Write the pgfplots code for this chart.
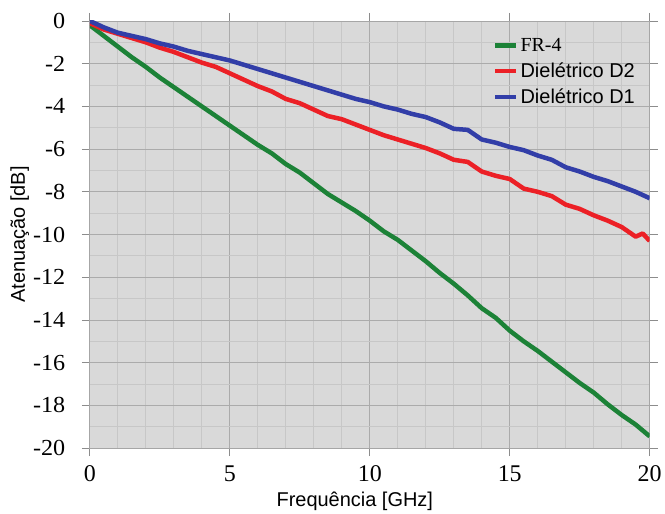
\documentclass[border=0pt]{standalone}
\usepackage{pgfplots}
\pgfplotsset{compat=1.18}
\usepackage{fontspec}
\setmainfont{Liberation Serif}
\newfontfamily\arial{Liberation Sans}
\newfontfamily\timesf{Liberation Serif}
\definecolor{cgreen}{RGB}{28,130,55}
\definecolor{cred}{RGB}{236,32,38}
\definecolor{cblue}{RGB}{50,62,168}
\definecolor{bg}{RGB}{217,217,217}
\begin{document}
\begin{tikzpicture}
\begin{axis}[
  scale only axis, width=561pt, height=428pt,
  xmin=0, xmax=20, ymin=-20, ymax=0,
  xtick={0,5,...,20}, ytick={-20,-18,...,0},
  xticklabels={0,5,10,15,20},
  yticklabels={-20,-18,-16,-14,-12,-10,-8,-6,-4,-2,0},
  minor xtick={1,2,3,4,6,7,8,9,11,12,13,14,16,17,18,19},
  minor ytick={-19,-17,...,-1},
  grid=both,
  major grid style={color=black!33, line width=0.8pt},
  minor grid style={color=black!22, line width=0.8pt},
  axis background/.style={fill=bg},
  axis line style={black!35, line width=0.8pt},
  tick style={black!45, line width=0.8pt},
  tick align=outside, major tick length=8pt, minor tick length=0pt,
  yticklabel style={font=\timesf\fontsize{23}{23}\selectfont, xshift=-13pt, xscale=1.05, anchor=east},
  xticklabel style={font=\timesf\fontsize{24}{24}\selectfont, yshift=-6pt},
  xlabel={\arial\fontsize{20}{20}\selectfont Frequência [GHz]},
  ylabel={\arial\fontsize{20}{20}\selectfont Atenuação [dB]},
  xlabel style={yshift=-3pt, xshift=-15pt},
  ylabel style={yshift=-3pt},
  extra description/.code={\path (rel axis cs:0,1) ++(-90pt,21pt);},
  legend style={at={(axis cs:14.4,-0.7)}, anchor=north west, draw=none, fill=none,
    font=\arial\fontsize{20}{20}\selectfont, row sep=6pt, inner sep=0pt,
    /tikz/every even column/.append style={column sep=0pt}},
  legend cell align=left,
  legend image code/.code={\draw[#1, line width=4.5pt] (0pt,0pt) -- (21pt,0pt);},
]
\addplot[cgreen, line width=4.5pt, line join=round] coordinates {
(0,-0.2) (0.5,-0.7) (1,-1.2) (1.5,-1.7) (2,-2.15) (2.5,-2.65) (3,-3.1) (3.5,-3.55) (4,-4.0)
(4.5,-4.45) (5,-4.9) (5.5,-5.35) (6,-5.8) (6.5,-6.2) (7,-6.7) (7.5,-7.1) (8,-7.6) (8.5,-8.1)
(9,-8.5) (9.5,-8.9) (10,-9.35) (10.5,-9.85) (11,-10.25) (11.5,-10.75) (12,-11.25) (12.5,-11.8)
(13,-12.3) (13.5,-12.85) (14,-13.45) (14.5,-13.9) (15,-14.5) (15.5,-15.0) (16,-15.45) (16.5,-15.95)
(17,-16.45) (17.5,-16.95) (18,-17.4) (18.5,-17.95) (19,-18.45) (19.5,-18.9) (20,-19.45)};
\addlegendentry{\timesf FR-4}
\addplot[cred, line width=4.5pt, line join=round] coordinates {
(0,-0.1) (0.5,-0.4) (1,-0.6) (1.5,-0.8) (2,-1.0) (2.5,-1.25) (3,-1.45) (3.5,-1.7) (4,-1.95)
(4.5,-2.15) (5,-2.45) (5.5,-2.75) (6,-3.05) (6.5,-3.3) (7,-3.65) (7.5,-3.85) (8,-4.15) (8.5,-4.45)
(9,-4.6) (9.5,-4.85) (10,-5.1) (10.5,-5.35) (11,-5.55) (11.5,-5.75) (12,-5.95) (12.5,-6.2)
(13,-6.5) (13.5,-6.6) (14,-7.05) (14.5,-7.25) (15,-7.4) (15.5,-7.85) (16,-8.0) (16.5,-8.2)
(17,-8.6) (17.5,-8.8) (18,-9.1) (18.5,-9.35) (19,-9.65) (19.5,-10.1) (19.75,-9.95) (20,-10.3)};
\addlegendentry{Dielétrico D2}
\addplot[cblue, line width=4.5pt, line join=round] coordinates {
(0,0) (0.5,-0.3) (1,-0.55) (1.5,-0.7) (2,-0.85) (2.5,-1.05) (3,-1.2) (3.5,-1.4) (4,-1.55)
(4.5,-1.7) (5,-1.85) (5.5,-2.05) (6,-2.25) (6.5,-2.45) (7,-2.65) (7.5,-2.85) (8,-3.05) (8.5,-3.25)
(9,-3.45) (9.5,-3.65) (10,-3.8) (10.5,-4.0) (11,-4.15) (11.5,-4.35) (12,-4.5) (12.5,-4.75)
(13,-5.05) (13.5,-5.1) (14,-5.55) (14.5,-5.7) (15,-5.9) (15.5,-6.05) (16,-6.3) (16.5,-6.5)
(17,-6.85) (17.5,-7.05) (18,-7.3) (18.5,-7.5) (19,-7.75) (19.5,-8.0) (20,-8.3)};
\addlegendentry{Dielétrico D1}
\end{axis}
\end{tikzpicture}
\end{document}
